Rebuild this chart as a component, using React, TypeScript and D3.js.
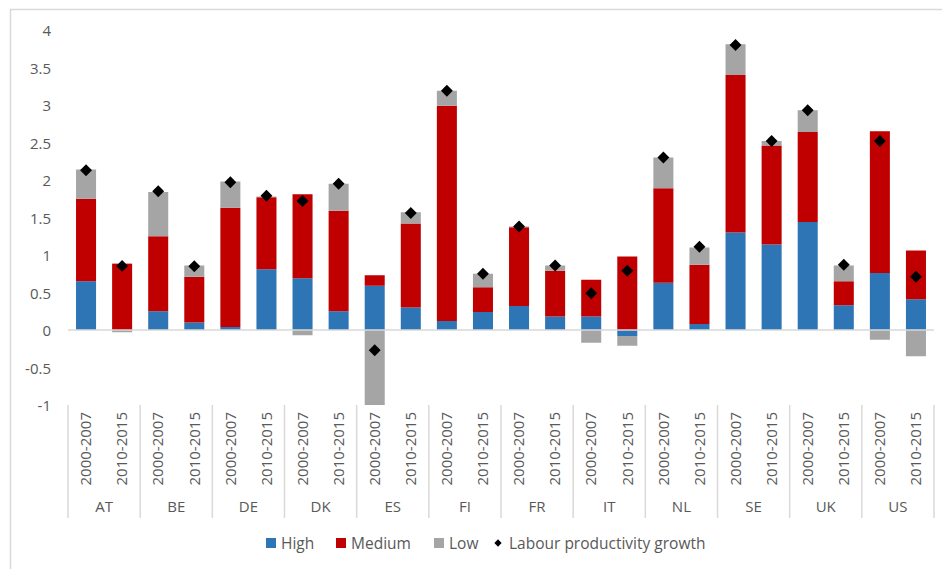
import React from "react";
import * as d3 from "d3";

// Contribution to labour productivity growth by skill level, per country and period
const countries = ["AT", "BE", "DE", "DK", "ES", "FI", "FR", "IT", "NL", "SE", "UK", "US"];
const periods = ["2000-2007", "2010-2015"];

// One value per country/period, in the order AT 2000-2007, AT 2010-2015, BE 2000-2007, ...
const high = [0.65, 0.0, 0.25, 0.1, 0.04, 0.81, 0.69, 0.25, 0.59, 0.3, 0.12, 0.24, 0.32, 0.18, 0.18, -0.08, 0.63, 0.08, 1.3, 1.14, 1.44, 0.33, 0.76, 0.41];
const medium = [1.1, 0.885, 1.0, 0.61, 1.59, 0.96, 1.12, 1.34, 0.14, 1.12, 2.87, 0.33, 1.05, 0.61, 0.49, 0.98, 1.26, 0.79, 2.1, 1.32, 1.2, 0.32, 1.89, 0.65];
const low = [0.39, -0.03, 0.59, 0.15, 0.35, 0.01, -0.07, 0.36, -1.0, 0.15, 0.2, 0.18, 0.01, 0.07, -0.17, -0.13, 0.41, 0.23, 0.41, 0.06, 0.29, 0.21, -0.13, -0.35];
const productivity = [2.13, 0.855, 1.85, 0.85, 1.97, 1.79, 1.72, 1.95, -0.27, 1.56, 3.19, 0.75, 1.38, 0.86, 0.49, 0.79, 2.3, 1.11, 3.8, 2.52, 2.93, 0.87, 2.52, 0.71];

const yTicks = [4, 3.5, 3, 2.5, 2, 1.5, 1, 0.5, 0, -0.5, -1];

const seriesKeys = ["High", "Medium", "Low"];
const seriesColors: Record<string, string> = {
  High: "#2E75B6",
  Medium: "#C00000",
  Low: "#A5A5A5",
};

const W = 942;
const H = 569;
const left = 68;
const right = 934;
const top = 30;
const bottom = 405;
const textColor = "#595959";
const axisColor = "#D9D9D9";
const font = "'Open Sans', sans-serif";

type Row = { key: string; country: string; period: string; High: number; Medium: number; Low: number; lp: number };

const rows: Row[] = countries.flatMap((c, ci) =>
  periods.map((p, pi) => {
    const i = ci * periods.length + pi;
    return { key: `${c}|${p}`, country: c, period: p, High: high[i], Medium: medium[i], Low: low[i], lp: productivity[i] };
  })
);

export default function App() {
  const x = d3
    .scaleBand<string>()
    .domain(rows.map((r) => r.key))
    .range([left, right])
    .paddingInner(0.445)
    .paddingOuter(0.2225);
  const y = d3.scaleLinear().domain([-1, 4]).range([bottom, top]);

  const groupX = d3.scaleBand<string>().domain(countries).range([left, right]);

  const stacked = d3
    .stack<Row>()
    .keys(seriesKeys)
    .offset(d3.stackOffsetDiverging)(rows);

  const diamond = d3.symbol().type(d3.symbolDiamond2).size(90)();
  const legendDiamond = d3.symbol().type(d3.symbolDiamond2).size(34)();

  const legendItems = [
    { label: "High", x: 266, kind: "rect", color: seriesColors.High },
    { label: "Medium", x: 336, kind: "rect", color: seriesColors.Medium },
    { label: "Low", x: 434, kind: "rect", color: seriesColors.Low },
    { label: "Labour productivity growth", x: 494, kind: "diamond", color: "#000" },
  ];
  const legendY = 543;

  return (
    <svg
      width={W}
      height={H}
      style={{ position: "absolute", left: 0, top: 0, background: "#fff" }}
      fontFamily={font}
    >
      {/* chart border */}
      <path d={`M10.5,${H} V9.5 H${W}`} fill="none" stroke={axisColor} strokeWidth={1.5} />

      {/* value axis labels */}
      {yTicks.map((t) => (
        <text
          key={t}
          x={51}
          y={y(t)}
          textAnchor="end"
          dominantBaseline="central"
          fontSize={15}
          fill={textColor}
        >
          {String(t)}
        </text>
      ))}

      {/* stacked bars */}
      {stacked.map((s) => (
        <g key={s.key} fill={seriesColors[s.key]}>
          {s.map((d) => {
            const y0 = y(d[0]);
            const y1 = y(d[1]);
            return (
              <rect
                key={d.data.key}
                x={x(d.data.key)}
                y={Math.min(y0, y1)}
                width={x.bandwidth()}
                height={Math.abs(y0 - y1)}
              />
            );
          })}
        </g>
      ))}

      {/* zero line */}
      <line x1={left} x2={right} y1={y(0)} y2={y(0)} stroke={axisColor} strokeWidth={1.5} />

      {/* productivity growth markers */}
      {rows.map((r) => (
        <path
          key={r.key}
          d={diamond!}
          transform={`translate(${(x(r.key) ?? 0) + x.bandwidth() / 2},${y(r.lp)})`}
          fill="#000"
        />
      ))}

      {/* category axis: group separators */}
      {[...countries.map((c) => groupX(c) ?? 0), right].map((gx, i) => (
        <line key={i} x1={gx} x2={gx} y1={bottom} y2={518} stroke={axisColor} strokeWidth={1.5} />
      ))}

      {/* period labels */}
      {rows.map((r) => (
        <text
          key={r.key}
          transform={`translate(${(x(r.key) ?? 0) + x.bandwidth() / 2},412) rotate(-90)`}
          textAnchor="end"
          dy="0.35em"
          fontSize={15}
          fill={textColor}
        >
          {r.period}
        </text>
      ))}

      {/* country labels */}
      {countries.map((c) => (
        <text
          key={c}
          x={(groupX(c) ?? 0) + groupX.bandwidth() / 2}
          y={506}
          textAnchor="middle"
          dominantBaseline="central"
          fontSize={15}
          fill={textColor}
        >
          {c}
        </text>
      ))}

      {/* legend */}
      {legendItems.map((it) => (
        <g key={it.label}>
          {it.kind === "rect" ? (
            <rect x={it.x} y={legendY - 5} width={10} height={10} fill={it.color} />
          ) : (
            <path d={legendDiamond!} transform={`translate(${it.x + 4},${legendY})`} fill={it.color} />
          )}
          <text
            x={it.kind === "rect" ? it.x + 15 : it.x + 15}
            y={legendY}
            dominantBaseline="central"
            fontSize={15.5}
            fill={textColor}
          >
            {it.label}
          </text>
        </g>
      ))}
    </svg>
  );
}
